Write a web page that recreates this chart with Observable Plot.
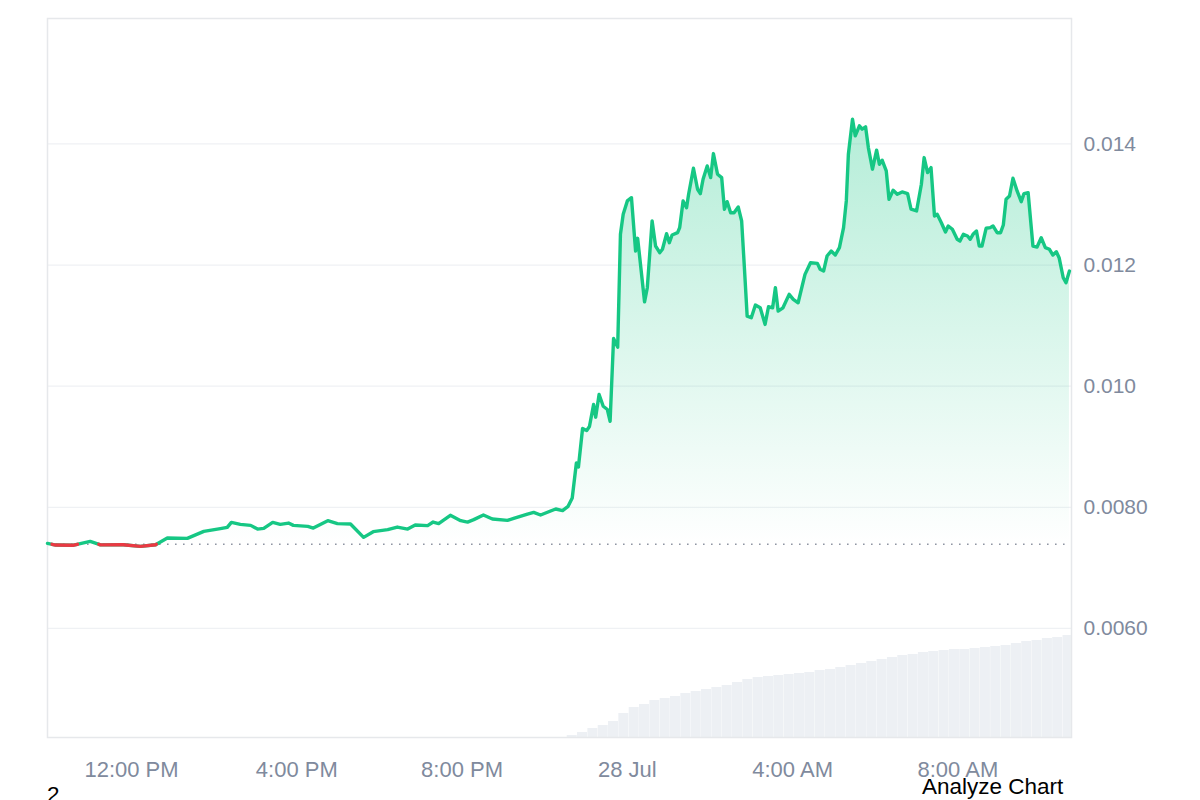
<!DOCTYPE html>
<html><head><meta charset="utf-8">
<script src="https://cdn.jsdelivr.net/npm/d3@7"></script>
<script src="https://cdn.jsdelivr.net/npm/@observablehq/plot@0.6"></script>
<style>
body{margin:0;background:#fff;font-family:"Liberation Sans",Arial,sans-serif;}
#wrap{position:relative;width:1200px;height:800px;overflow:hidden;background:#fff}
#vol,#main{position:absolute;left:0;top:0}
.note{position:absolute;font-size:22.5px;color:#000;line-height:24px;white-space:nowrap}
</style></head><body>
<div id="wrap">
<div id="vol"></div>
<div id="main"></div>
<div class="note" style="left:922px;top:775px">Analyze Chart</div>
<div class="note" style="left:47px;top:783px">2</div>
</div>
<script>
// minutes after 27 Jul, 10:00
const minutes = [-2,10,36,60,75,108,133,155,172,201,225,249,259,265,278,293,303,312,325,336,
348,355,376,384,405,419,438,457,471,492,506,521,532,550,558,566,583,598,608,617,
631,644,666,675,695,704,714,736,746,754,760,766,769,775,781,785,791,794,799,805,
811,815,820,826,830,834,840,846,852,855,865,869,876,881,887,891,897,901,905,913,
916,921,926,929,936,942,946,950,956,961,965,971,977,981,985,990,995,1001,1006,1010,
1014,1020,1026,1033,1040,1045,1051,1055,1059,1066,1075,1081,1088,1098,1106,1116,1120,1125,1130,1136,
1142,1148,1154,1158,1161,1167,1171,1177,1181,1186,1190,1196,1202,1206,1210,1216,1220,1226,1232,1239,
1247,1252,1260,1267,1271,1276,1281,1286,1290,1296,1302,1306,1312,1319,1323,1328,1334,1338,1342,1347,
1351,1355,1361,1367,1371,1377,1382,1386,1390,1395,1400,1406,1412,1416,1422,1429,1435,1441,1447,1453,
1458,1463,1467,1473,1477,1482];
const prices = [0.007405,0.007377,0.007375,0.007438,0.007380,0.007382,0.007355,0.007383,0.007493,0.007488,
0.007603,0.007648,0.007669,0.007752,0.007719,0.007702,0.007641,0.007653,0.007752,0.007719,
0.007740,0.007702,0.007686,0.007658,0.007780,0.007731,0.007724,0.007504,0.007598,0.007631,
0.007674,0.007641,0.007707,0.007698,0.007757,0.007731,0.007868,0.007780,0.007757,0.007797,
0.007873,0.007807,0.007785,0.007818,0.007889,0.007917,0.007873,0.007972,0.007945,0.008017,
0.008154,0.008732,0.008666,0.009301,0.009268,0.009334,0.009698,0.009488,0.009863,0.009669,
0.009615,0.009421,0.010788,0.010645,0.012507,0.012838,0.013058,0.013112,0.012231,0.012441,
0.011393,0.011625,0.012727,0.012314,0.012203,0.012260,0.012517,0.012369,0.012496,0.012534,
0.012617,0.013058,0.012947,0.013169,0.013598,0.013251,0.013179,0.013417,0.013636,0.013443,
0.013840,0.013499,0.013443,0.012921,0.013046,0.012864,0.012864,0.012959,0.012727,0.011955,
0.011157,0.011129,0.011339,0.011294,0.011020,0.011311,0.011294,0.011625,0.011240,0.011294,
0.011516,0.011433,0.011377,0.011846,0.012038,0.012028,0.011929,0.011901,0.012149,0.012231,
0.012165,0.012286,0.012617,0.013058,0.013830,0.014408,0.014132,0.014298,0.014243,0.014281,
0.013939,0.013582,0.013896,0.013664,0.013731,0.013554,0.013086,0.013235,0.013169,0.013207,
0.013179,0.012921,0.012893,0.013334,0.013774,0.013526,0.013608,0.012810,0.012838,0.012699,
0.012545,0.012645,0.012590,0.012425,0.012397,0.012507,0.012479,0.012425,0.012507,0.012562,
0.012314,0.012314,0.012607,0.012617,0.012645,0.012534,0.012534,0.012661,0.013086,0.013140,
0.013433,0.013223,0.013046,0.013179,0.013195,0.012314,0.012298,0.012451,0.012286,0.012260,
0.012165,0.012220,0.012121,0.011790,0.011707,0.011901];
const openPrice = 0.0073895;

// volume bars: minutes after 27 Jul 10:00, every 15 minutes
const volMinutes = d3.range(760, 760 + 49 * 15, 15);
const volumes = [2,5,9,12,16,24,30,33,37,39,41,44,46,48,50,52,55,58,60,61,
62,63,64,65,67,68,70,72,74,76,78,80,82,83,85,86,87,88,88,89,
90,91,92,94,96,97,99,100,102].map(v => v * 1000);

const xTickMinutes = [120, 360, 600, 840, 1080, 1320];
const xTickLabels = ["12:00 PM", "4:00 PM", "8:00 PM", "28 Jul", "4:00 AM", "8:00 AM"];
const yTicks = [0.006, 0.008, 0.010, 0.012, 0.014];
const yTickLabels = ["0.0060", "0.0080", "0.010", "0.012", "0.014"];

const base = Date.UTC(2024, 6, 27, 10, 0);
const toDate = m => new Date(base + m * 60000);
const series = minutes.map((m, i) => ({time: toDate(m), price: prices[i]}));
const xDomain = [toDate(-2), toDate(1485)];
const xTicks = xTickMinutes.map(toDate);
const xLabelMap = new Map(xTicks.map((d, i) => [+d, xTickLabels[i]]));
const yLabelMap = new Map(yTicks.map((d, i) => [d, yTickLabels[i]]));

// red segments: parts of the line below the opening price
const red = [];
let seg = 0;
for (let i = 0; i < series.length - 1; i++) {
  const a = series[i], b = series[i + 1];
  const aB = a.price < openPrice, bB = b.price < openPrice;
  const cross = () => {
    const t = (openPrice - a.price) / (b.price - a.price);
    return {time: new Date(+a.time + t * (b.time - a.time)), price: openPrice};
  };
  if (aB && bB) { red.push({...a, seg}, {...b, seg}); }
  else if (aB && !bB) { red.push({...a, seg}, {...cross(), seg}); seg++; }
  else if (!aB && bB) { red.push({...cross(), seg}, {...b, seg}); }
}

const W = 1200, H = 800;
const margins = {marginLeft: 47, marginRight: 129, marginTop: 18, marginBottom: 63};
const font = '"Liberation Sans", Arial, sans-serif';

const volData = volMinutes.map((m, i) => ({time: toDate(m), v: volumes[i]}));
const volPlot = Plot.plot({
  width: W, height: H, ...margins,
  style: {background: "#fff"},
  x: {type: "utc", domain: xDomain, axis: null},
  y: {domain: [0, 719000], axis: null},
  marks: [
    Plot.rectY(volData, {
      x1: d => new Date(+d.time - 7.5 * 60000),
      x2: d => new Date(Math.min(+d.time + 7.5 * 60000, +xDomain[1])),
      y: "v", fill: "#edf0f4", insetLeft: 0.15, insetRight: 0.15
    })
  ]
});
document.getElementById("vol").appendChild(volPlot);

const main = Plot.plot({
  width: W, height: H, ...margins,
  style: {background: "transparent", fontFamily: font, fontSize: "21px", color: "#808a9d"},
  x: {type: "utc", domain: xDomain, ticks: xTicks, tickFormat: d => xLabelMap.get(+d),
      tickSize: 0, tickPadding: 24, label: null},
  y: {domain: [0.0042, 0.01607], ticks: yTicks, tickFormat: d => yLabelMap.get(d),
      axis: "right", tickSize: 0, tickPadding: 12, label: null},
  marks: [
    Plot.ruleY(yTicks, {stroke: "#eff1f4", strokeWidth: 1.2}),
    Plot.frame({stroke: "#e6e8eb", strokeWidth: 1.5}),
    Plot.areaY(series, {x: "time", y1: openPrice, y2: "price", fill: "url(#priceGrad)"}),
    Plot.ruleY([openPrice], {stroke: "#8f96a3", strokeWidth: 1.6, strokeDasharray: "1.6,6.4"}),
    Plot.line(series, {x: "time", y: "price", stroke: "#16c784", strokeWidth: 3.4, strokeLinejoin: "round"}),
    Plot.line(red, {x: "time", y: "price", z: "seg", stroke: "#ea3943", strokeWidth: 3.4, strokeLinejoin: "round"})
  ]
});
main.querySelectorAll('[aria-label^="x-axis"]').forEach(g => g.style.fontSize = "22px");
const ns = "http://www.w3.org/2000/svg";
const defs = document.createElementNS(ns, "defs");
const grad = document.createElementNS(ns, "linearGradient");
grad.setAttribute("id", "priceGrad");
grad.setAttribute("x1", "0"); grad.setAttribute("y1", "0");
grad.setAttribute("x2", "0"); grad.setAttribute("y2", "1");
[[0, 0.32], [1, 0]].forEach(([o, op]) => {
  const s = document.createElementNS(ns, "stop");
  s.setAttribute("offset", o);
  s.setAttribute("stop-color", "#16c784");
  s.setAttribute("stop-opacity", op);
  grad.appendChild(s);
});
defs.appendChild(grad);
main.insertBefore(defs, main.firstChild);
document.getElementById("main").appendChild(main);
</script></body></html>
